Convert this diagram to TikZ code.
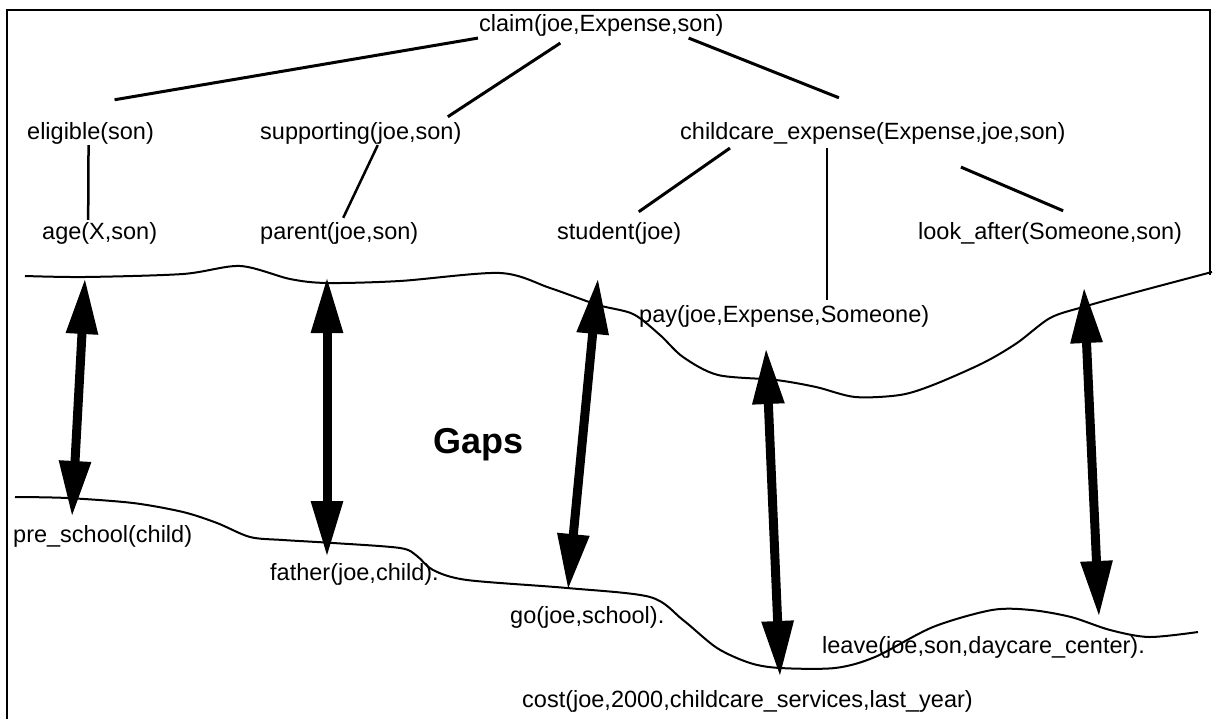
\documentclass[tikz,border=0pt]{standalone}
\usepackage{fontspec}
\setmainfont{Liberation Sans}
\usetikzlibrary{arrows.meta}
\begin{document}
\begin{tikzpicture}[x=1pt,y=-1pt,
  lbl/.style={anchor=base west,inner sep=0pt,font=\fontsize{23.5}{28}\selectfont},
  edge/.style={line width=3pt},
  thinedge/.style={line width=2.5pt},
  wave/.style={line width=2pt,line join=round},
  gaparrow/.style={line width=9pt,{Triangle[length=56pt,width=30pt]}-{Triangle[length=56pt,width=30pt]}},
  frameline/.style={line width=2pt}]
\useasboundingbox (0,0) rectangle (1215,719);

% frame
\draw[frameline] (7,719) -- (7,10) -- (1210,10) -- (1210,275);

% labels
\node[lbl] (claim) at (479,32) {claim(joe,Expense,son)};
\node[lbl] (eligible) at (27,140) {eligible(son)};
\node[lbl] (supporting) at (260,140) {supporting(joe,son)};
\node[lbl] (childcare) at (680,140) {childcare\_expense(Expense,joe,son)};
\node[lbl] (age) at (42,240) {age(X,son)};
\node[lbl] (parent) at (260,240) {parent(joe,son)};
\node[lbl] (student) at (557,240) {student(joe)};
\node[lbl] (lookafter) at (918,240) {look\_after(Someone,son)};
\node[lbl] (pay) at (639,323) {pay(joe,Expense,Someone)};
\node[lbl,font=\fontsize{36}{40}\selectfont\bfseries] (gaps) at (433,453) {Gaps};
\node[lbl] (preschool) at (13,542) {pre\_school(child)};
\node[lbl] (father) at (270,580) {father(joe,child).};
\node[lbl] (go) at (510,623) {go(joe,school).};
\node[lbl] (leave) at (822,653) {leave(joe,son,daycare\_center).};
\node[lbl] (cost) at (522,707) {cost(joe,2000,childcare\_services,last\_year)};

% tree edges
\draw[edge] ([shift={(-1,1)}]claim.south west) -- ([shift={(24,-23)}]eligible.north);
\draw[edge] ([shift={(-41,6)}]claim.south) -- ([shift={(87,-6)}]supporting.north);
\draw[edge] ([shift={(-35,1)}]claim.south east) -- ([shift={(-34,-25)}]childcare.north);
\draw[thinedge] ([shift={(-2,0)}]eligible.south) -- ([shift={(-11.5,-3)}]age.north);
\draw[thinedge] ([shift={(17,0)}]supporting.south) -- ([shift={(4,-5)}]parent.north);
\draw[edge] ([shift={(50,3)}]childcare.south west) -- ([shift={(19.5,-11)}]student.north);
\coordinate (cp) at ([shift={(147,3)}]childcare.south west);
\coordinate (pt) at ([shift={(42,-6)}]pay.north);
\draw[thinedge] (cp) -- (cp |- pt);
\draw[edge] ([shift={(88,22)}]childcare.south) -- ([shift={(13,-12)}]lookafter.north);

% upper boundary
\draw[wave] plot[smooth,tension=0.5] coordinates {
 (25,276) (85,277) (183,274) (240,266) (290,279) (327,283) (400,281) (500,273)
 (550,288) (598,305) (633,314) (660,335) (683,357) (718,375) (776,380) (816,387)
 (855,397) (900,395) (933,385) (983,363) (1017,343) (1050,318) (1083,307)
 (1133,293) (1212,272)};

% lower boundary
\draw[wave] plot[smooth,tension=0.5] coordinates {
 (15,497) (67,498) (133,503) (183,512) (217,523) (250,537) (283,540) (333,543)
 (400,548) (417,556) (433,570) (467,580) (567,588) (650,597) (683,620) (717,648)
 (750,663) (780,668) (835,668) (875,657) (933,627) (992,610) (1031,610)
 (1071,617) (1110,630) (1149,637) (1198,632)};

% gap arrows
\coordinate (t1) at (85,278);   \coordinate (b1) at (72,517);
\coordinate (t2) at (327,277);  \coordinate (b2) at (327,557);
\coordinate (t3) at (598,278);  \coordinate (b3) at (568,590);
\coordinate (t4) at (766,348);  \coordinate (b4) at (780,677);
\coordinate (t5) at (1084,287); \coordinate (b5) at (1099,617);
\draw[gaparrow] (t1) -- (b1);
\draw[gaparrow] (t2) -- (b2);
\draw[gaparrow] (t3) -- (b3);
\draw[gaparrow] (t4) -- (b4);
\draw[gaparrow] (t5) -- (b5);
\end{tikzpicture}
\end{document}
